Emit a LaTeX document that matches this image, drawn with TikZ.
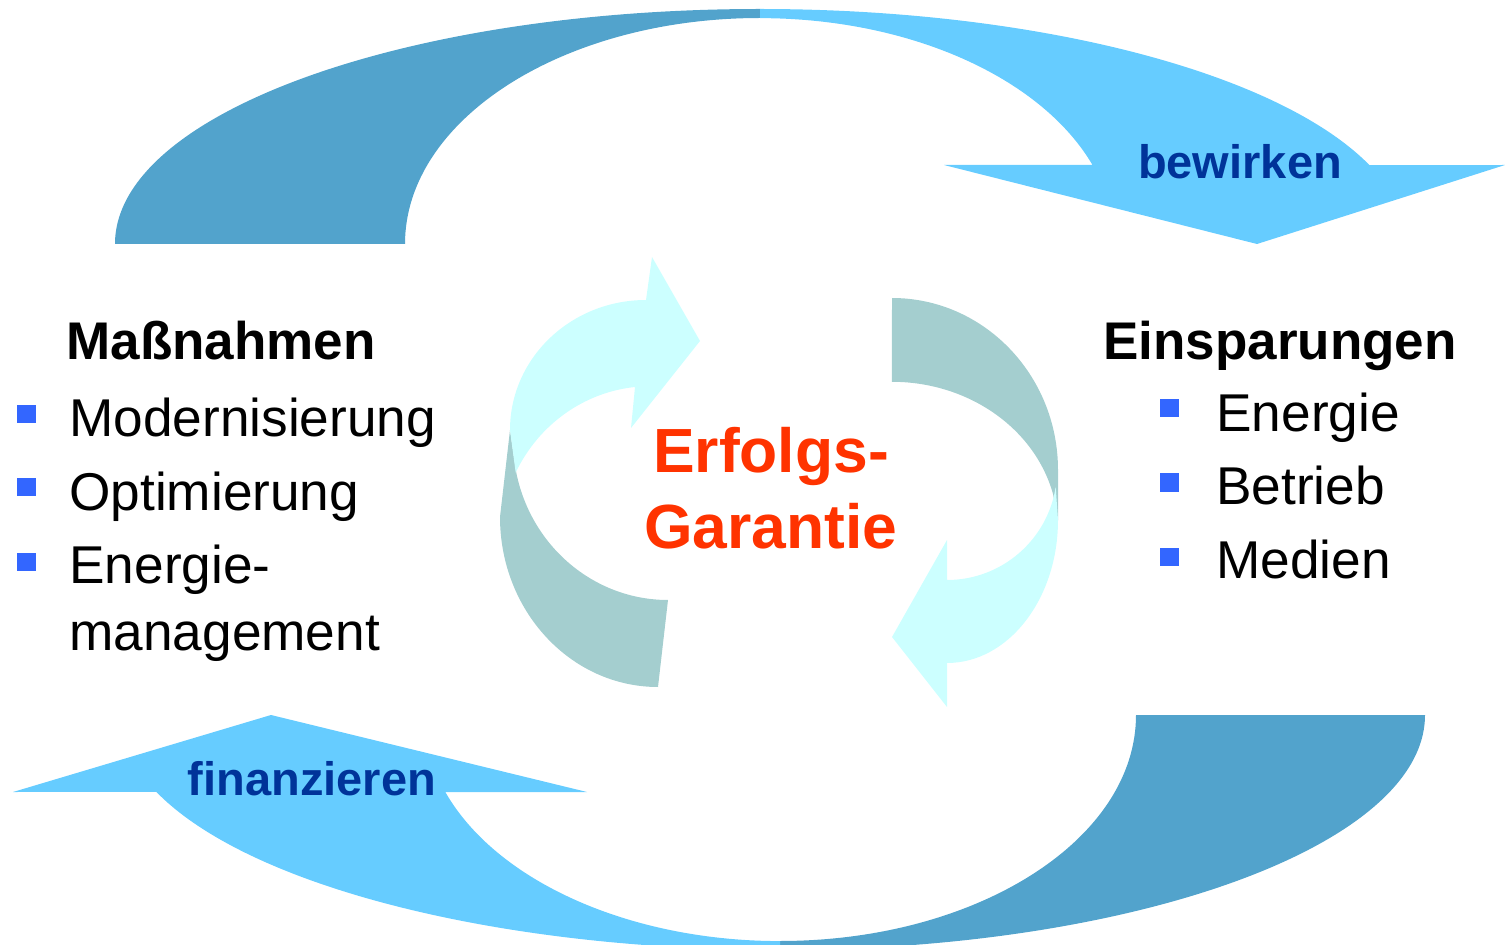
\documentclass[tikz,border=0pt]{standalone}
\usepackage{fontspec}
\setmainfont{Liberation Sans}
\usepackage{xcolor}
\usetikzlibrary{positioning}

\definecolor{bandback}{HTML}{52A3CC}
\definecolor{bandfront}{HTML}{66CCFF}
\definecolor{ringback}{HTML}{A4CECF}
\definecolor{ringfront}{HTML}{CCFFFF}
\definecolor{verbblue}{HTML}{003399}
\definecolor{keyred}{HTML}{FF3300}
\definecolor{dotblue}{HTML}{3366FF}

\begin{document}
\begin{tikzpicture}[x=0.5pt,y=0.5pt,
        head/.style={font=\fontsize{26.5}{30}\selectfont\bfseries, inner sep=0, anchor=base west},
        item/.style={font=\fontsize{26.6}{30}\selectfont, inner sep=0, anchor=base west},
        verb/.style={font=\fontsize{23.5}{28}\selectfont\bfseries, text=verbblue, inner sep=0, anchor=base},
        key/.style={font=\fontsize{31.2}{36}\selectfont\bfseries, text=keyred, inner sep=0, anchor=base}]
        \tikzstyle{dot} = [fill=dotblue, minimum width=9.5pt, minimum height=9pt, inner sep=0]
        \useasboundingbox (0,0) rectangle (1505,944);
        \clip (0,0) rectangle (1505,944);

        % upper band: Massnahmen -> Einsparungen
        \fill[bandback] (115,700) arc[start angle=180, end angle=90, x radius=645, y radius=235]
            -- (760,926) arc[start angle=90, end angle=180, x radius=355, y radius=226] -- cycle;
        \fill[bandfront] (760,935) arc[start angle=90, end angle=19.6, x radius=647, y radius=235]
            -- (1505,779) -- (1257,700) -- (944,779)
            -- (1092.5,779) arc[start angle=20.5, end angle=90, x radius=355, y radius=226] -- cycle;

        % lower band: Einsparungen -> Massnahmen
        \fill[bandback] (1425,229) arc[start angle=0, end angle=-90, x radius=645, y radius=235]
            -- (780,3) arc[start angle=-90, end angle=0, x radius=356, y radius=226] -- cycle;
        \fill[bandfront] (780,-6) arc[start angle=270, end angle=199.1, x radius=660, y radius=235]
            -- (13,152) -- (271,229) -- (587,152)
            -- (445.3,152) arc[start angle=199.9, end angle=270, x radius=356, y radius=226] -- cycle;

        % small ring, left half
        \fill[ringback] (510,514) -- (500,427) arc[start angle=180, end angle=270, x radius=158, y radius=170]
            -- (668,344) arc[start angle=270, end angle=190.8, x radius=155, y radius=160] -- cycle;
        \fill[ringfront] (510,514) arc[start angle=180, end angle=90, x radius=136, y radius=130]
            -- (652,687) -- (700,603) -- (631,516)
            -- (635,557) arc[start angle=95.8, end angle=153.7, x radius=150, y radius=155] -- cycle;

        % small ring, right half
        \fill[ringback] (892,646) arc[start angle=90, end angle=0, x radius=166, y radius=172]
            -- (1058,424) -- (1053,450) arc[start angle=14, end angle=90, x radius=166, y radius=148] -- cycle;
        \fill[ringfront] (1058,424) arc[start angle=0, end angle=-90, x radius=111, y radius=143]
            -- (947,237) -- (892,307) -- (947,404)
            -- (947,364) arc[start angle=270, end angle=351.1, x radius=110, y radius=110] -- cycle;

        % texts
        \node[verb] (bew) at (1240,765) {bewirken};
        \node[verb] (fin) at (312,149) {finanzieren};
        \node[key] (erf) at (771,472) {Erfolgs-};
        \node[key] (gar) at (771,396) {Garantie};

        \node[head] (mass) at (66,584) {Maßnahmen};
        \node[item] (mod) at (69,507) {Modernisierung};
        \node[item] (opt) at (69,434) {Optimierung};
        \node[item] (enm) at (69,361) {Energie-};
        \node[item] (man) at (69,294) {management};
        \node[dot] (d1) at (26,530) {};
        \node[dot] (d2) at (26,457) {};
        \node[dot] (d3) at (26,382) {};

        \node[head] (ein) at (1103,584) {Einsparungen};
        \node[item] (ene) at (1216,512) {Energie};
        \node[item] (bet) at (1216,439) {Betrieb};
        \node[item] (med) at (1216,366) {Medien};
        \node[dot] (e1) at (1169.5,535.5) {};
        \node[dot] (e2) at (1169.5,461.5) {};
        \node[dot] (e3) at (1169.5,387.5) {};
\end{tikzpicture}
\end{document}
